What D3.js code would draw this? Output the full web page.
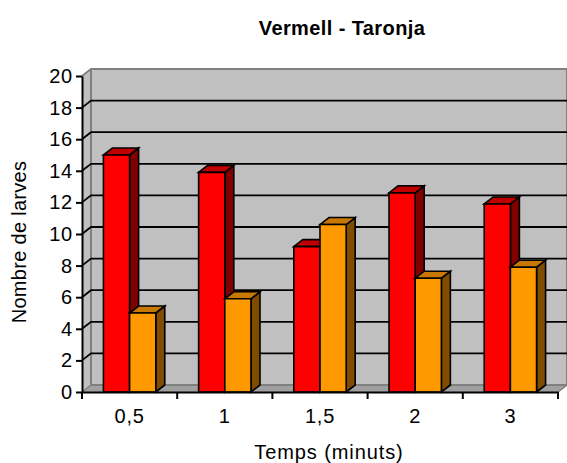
<!DOCTYPE html>
<html>
<head>
<meta charset="utf-8">
<script src="https://cdn.jsdelivr.net/npm/d3@7"></script>
<style>
  html, body { margin: 0; padding: 0; background: #fff; }
  svg { display: block; font-family: "Liberation Sans", Arial, sans-serif; }
</style>
</head>
<body>
<svg id="chart" width="567" height="463"></svg>
<script>
// Temps (minuts) categories
const categories = ["0,5", "1", "1,5", "2", "3"];
// Nombre de larves per series
const seriesNames = ["Vermell", "Taronja"];
const vermell = [15, 13.9, 9.2, 12.6, 11.9];
const taronja = [5, 5.9, 10.6, 7.2, 7.9];
const yTicks = [0, 2, 4, 6, 8, 10, 12, 14, 16, 18, 20];

const colors = {
  Vermell: { front: "#FF0000", top: "#C00000", side: "#800000" },
  Taronja: { front: "#FF9900", top: "#C87800", side: "#804C00" }
};

const svg = d3.select("#chart");

// front plane of the 3D box
const plotLeft = 82, plotRight = 558, plotTop = 76, plotBottom = 392;
// depth offset of the box
const dx = 9, dy = -7;

const y = d3.scaleLinear().domain([0, 20]).range([plotBottom, plotTop]);
const x = d3.scaleBand().domain(categories).range([plotLeft, plotRight]).padding(0);
const xs = d3.scaleBand().domain(seriesNames)
  .range([x.bandwidth() * 0.225, x.bandwidth() * 0.775]).padding(0);

const rows = categories.map((c, i) => ({ cat: c, Vermell: vermell[i], Taronja: taronja[i] }));

const poly = pts => "M" + pts.map(p => p.join(",")).join("L") + "Z";

// walls
const walls = svg.append("g");
// side wall
walls.append("path")
  .attr("d", poly([[plotLeft, plotBottom], [plotLeft, plotTop], [plotLeft + dx, plotTop + dy], [plotLeft + dx, plotBottom + dy]]))
  .attr("fill", "#C0C0C0");
// back wall
walls.append("path")
  .attr("d", poly([[plotLeft + dx, plotTop + dy], [plotRight + dx, plotTop + dy], [plotRight + dx, plotBottom + dy], [plotLeft + dx, plotBottom + dy]]))
  .attr("fill", "#C0C0C0");
// floor
walls.append("path")
  .attr("d", poly([[plotLeft, plotBottom], [plotRight, plotBottom], [plotRight + dx, plotBottom + dy], [plotLeft + dx, plotBottom + dy]]))
  .attr("fill", "#A0A0A0");

// wall edges
const edges = svg.append("g").attr("fill", "none").attr("stroke", "#808080").attr("stroke-width", 2);
edges.append("path").attr("d", `M${plotLeft},${plotTop}L${plotLeft + dx},${plotTop + dy}H${plotRight + dx}V${plotBottom + dy}`);
edges.append("path").attr("d", `M${plotLeft + dx},${plotTop + dy}V${plotBottom + dy}H${plotRight + dx}`);
edges.append("path").attr("d", `M${plotLeft},${plotBottom}L${plotLeft + dx},${plotBottom + dy}`).attr("stroke-width", 1.5);
edges.append("path").attr("d", `M${plotRight},${plotBottom}L${plotRight + dx},${plotBottom + dy}`).attr("stroke-width", 1.5);

// gridlines on side wall and back wall
const grid = svg.append("g").attr("stroke", "#000").attr("stroke-width", 1.8).attr("fill", "none");
grid.selectAll("path")
  .data(yTicks.filter(v => v > 0 && v < 20))
  .join("path")
  .attr("d", v => `M${plotLeft},${y(v)}L${plotLeft + dx},${y(v) + dy}H${plotRight + dx}`);

// bars
const bars = svg.append("g").attr("stroke", "#000").attr("stroke-width", 1.6).attr("stroke-linejoin", "miter");
rows.forEach(r => {
  seriesNames.forEach(s => {
    const x0 = x(r.cat) + xs(s), x1 = x0 + xs.bandwidth();
    const y0 = y(0), y1 = y(r[s]);
    const g = bars.append("g");
    g.append("path").attr("fill", colors[s].side)
      .attr("d", poly([[x1, y0], [x1, y1], [x1 + dx, y1 + dy], [x1 + dx, y0 + dy]]));
    g.append("path").attr("fill", colors[s].top)
      .attr("d", poly([[x0, y1], [x0 + dx, y1 + dy], [x1 + dx, y1 + dy], [x1, y1]]));
    g.append("path").attr("fill", colors[s].front)
      .attr("d", poly([[x0, y0], [x0, y1], [x1, y1], [x1, y0]]));
  });
});

const labelFont = "'Liberation Sans', Arial, sans-serif";

// y axis
const yAxis = svg.append("g")
  .attr("transform", `translate(${plotLeft},0)`)
  .call(d3.axisLeft(y).tickValues(yTicks).tickSize(6).tickSizeOuter(0).tickPadding(3));
yAxis.selectAll("path, line").attr("stroke", "#000").attr("stroke-width", 2);
yAxis.selectAll("text").attr("font-size", 20).attr("letter-spacing", 0.8).attr("fill", "#000")
  .attr("font-family", labelFont);

// x axis: labels at category centres, ticks at category boundaries
const xAxis = svg.append("g")
  .attr("transform", `translate(0,${plotBottom})`)
  .call(d3.axisBottom(x).tickSize(0).tickSizeOuter(0).tickPadding(17));
xAxis.selectAll("path").attr("stroke", "#000").attr("stroke-width", 2);
xAxis.selectAll("text").attr("font-size", 20).attr("letter-spacing", 0.8).attr("fill", "#000")
  .attr("font-family", labelFont);
const bounds = categories.map(c => x(c)).concat([x.range()[1]]);
xAxis.selectAll("line.bound")
  .data(bounds)
  .join("line")
  .attr("class", "bound")
  .attr("x1", d => d).attr("x2", d => d)
  .attr("y1", 0).attr("y2", 7)
  .attr("stroke", "#000").attr("stroke-width", 2);

// titles
svg.append("text")
  .attr("x", 342).attr("y", 35)
  .attr("text-anchor", "middle")
  .attr("font-size", 20).attr("font-weight", "bold").attr("letter-spacing", 0.4)
  .text("Vermell - Taronja");

svg.append("text")
  .attr("x", 329).attr("y", 459)
  .attr("text-anchor", "middle")
  .attr("font-size", 20).attr("letter-spacing", 0.9)
  .text("Temps (minuts)");

svg.append("text")
  .attr("transform", "translate(26,242) rotate(-90)")
  .attr("text-anchor", "middle")
  .attr("font-size", 20).attr("letter-spacing", 0.3)
  .text("Nombre de larves");
</script>
</body>
</html>
